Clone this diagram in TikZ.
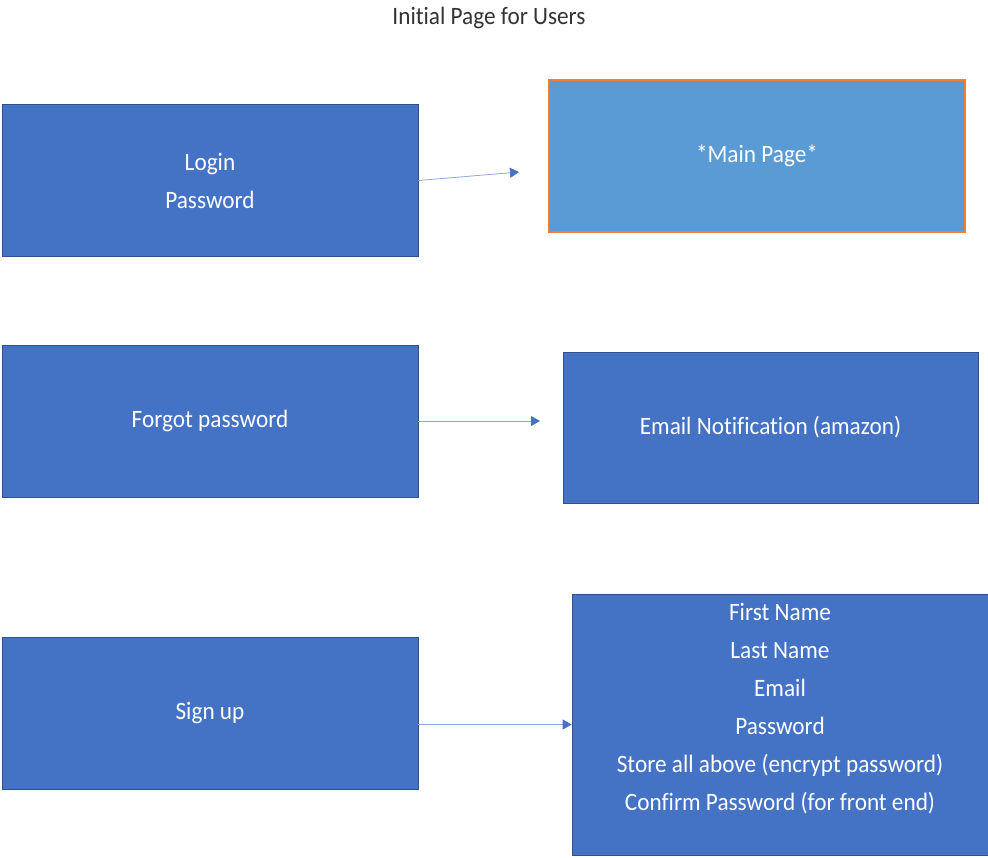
\documentclass[tikz,border=0pt]{standalone}
\usepackage{fontspec}
\setmainfont{Carlito}[FakeStretch=0.93,Ligatures=NoCommon]
\usetikzlibrary{arrows.meta,calc}
\definecolor{boxblue}{HTML}{4472C4}
\definecolor{boxedge}{HTML}{2F528F}
\definecolor{mainblue}{HTML}{5B9BD5}
\definecolor{mainedge}{HTML}{ED7D31}
\definecolor{arrline}{HTML}{8EA6D8}
\definecolor{titlegray}{HTML}{333333}
\tikzset{
  box/.style={draw=boxedge, line width=0.8pt, fill=boxblue, minimum width=416pt, minimum height=152pt, text=white, font=\fontsize{25}{38}\selectfont, align=center, inner sep=0pt},
  mainbox/.style={box, draw=mainedge, fill=mainblue, line width=1.3pt},
  txt/.style={text=white, font=\fontsize{25}{38}\selectfont, align=center, inner sep=0pt},
  arr/.style={draw=arrline, line width=0.8pt, -{Triangle[length=9pt,width=10pt,color=boxblue]}}
}
\begin{document}
\begin{tikzpicture}[x=1pt,y=-1pt]
\useasboundingbox (0,0) rectangle (988,857);
\node[font=\fontsize{25}{30}\selectfont, text=titlegray, inner sep=0pt] (title) at (489,18) {Initial Page for Users};
\node[box] (login) at (210,180.5) {Login\\Password};
\node[mainbox] (main) at (757,156) {*Main Page*};
\node[box] (forgot) at (210,421) {Forgot password};
\node[box, minimum width=415pt, minimum height=151pt] (email) at (770.5,427.5) {Email Notification (amazon)};
\node[box] (signup) at (210,713) {Sign up};
\node[box, minimum height=261pt] (det) at (780,724.5) {};
\node[txt, anchor=north] (detlist) at ($(det.north)+(0,9)$) {First Name\\Last Name\\Email\\Password\\Store all above (encrypt password)\\Confirm Password (for front end)};
\coordinate (a1) at (519,172);
\coordinate (a2) at (540,421);
\draw[arr] (login.east) -- (a1);
\draw[arr] (forgot.east) -- (a2);
\draw[arr] (signup.east |- det.west) -- (det.west);
\end{tikzpicture}
\end{document}
